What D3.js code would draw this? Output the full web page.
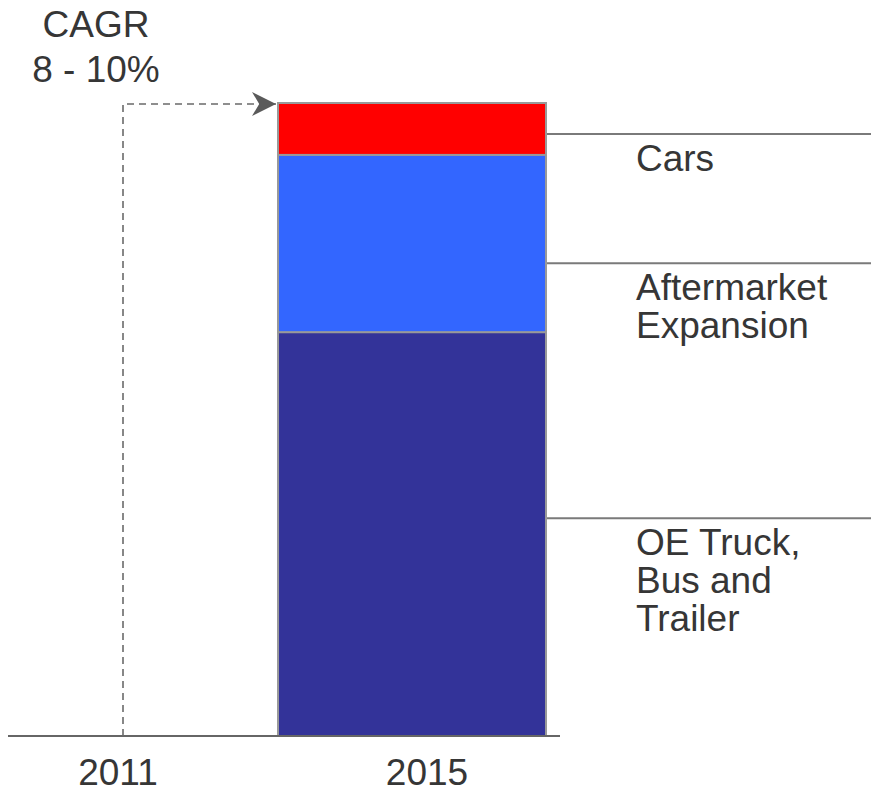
<!DOCTYPE html>
<html>
<head>
<meta charset="utf-8">
<script src="https://cdn.jsdelivr.net/npm/d3@7"></script>
<style>
  body { margin: 0; background: #fff; }
</style>
</head>
<body>
<svg id="chart" width="871" height="794" font-family="'Liberation Sans', Arimo, Arial, Helvetica, sans-serif"></svg>
<script>
const years = ["2011", "2015"];
const segments = ["OE Truck, Bus and Trailer", "Aftermarket Expansion", "Cars"];
const segmentLines = [["OE Truck,", "Bus and", "Trailer"], ["Aftermarket", "Expansion"], ["Cars"]];
const values2015 = [63.8, 28.0, 8.2];
const leaderAt = [34.4, 74.7, 95.1];
const colors = ["#333399", "#3366ff", "#ff0000"];
const cagrText = ["CAGR", "8 - 10%"];

const svg = d3.select("#chart");

const x = d3.scalePoint().domain(years).range([123, 412]);
const xLabel = d3.scalePoint().domain(years).range([118, 427]);
const y = d3.scaleLinear().domain([0, 100]).range([736, 103]);
const barWidth = 268;
const textColor = "#363636";

// stacked values
let acc = 0;
const stacked = values2015.map((v, i) => {
  const d = { name: segments[i], y0: acc, y1: acc + v, color: colors[i] };
  acc += v;
  return d;
});

const barX = x("2015") - barWidth / 2;

svg.append("defs")
  .append("marker")
  .attr("id", "arrow")
  .attr("viewBox", "0 0 10 10")
  .attr("refX", 10)
  .attr("refY", 5)
  .attr("markerWidth", 27)
  .attr("markerHeight", 24)
  .attr("markerUnits", "userSpaceOnUse")
  .attr("orient", "auto")
  .append("path")
  .attr("d", "M0,0 L10,5 L0,10 L3,5 Z")
  .attr("fill", "#5a5a5a");

// leader lines
svg.selectAll(".leader")
  .data(leaderAt)
  .join("line")
  .attr("class", "leader")
  .attr("x1", barX + barWidth)
  .attr("x2", 871)
  .attr("y1", (d) => y(d))
  .attr("y2", (d) => y(d))
  .attr("stroke", "#7a7a7a")
  .attr("stroke-width", 2);

// bar segments
svg.selectAll(".seg")
  .data(stacked)
  .join("rect")
  .attr("class", "seg")
  .attr("x", barX)
  .attr("y", (d) => y(d.y1))
  .attr("width", barWidth)
  .attr("height", (d) => y(d.y0) - y(d.y1))
  .attr("fill", (d) => d.color)
  .attr("stroke", "#999")
  .attr("stroke-width", 2);

// baseline
svg.append("line")
  .attr("x1", 8)
  .attr("x2", 560)
  .attr("y1", y(0))
  .attr("y2", y(0))
  .attr("stroke", "#666")
  .attr("stroke-width", 2);

// CAGR dashed arrow
svg.append("path")
  .attr("d", `M${x("2011")},${y(0)} V${y(100) + 1} H${barX - 2}`)
  .attr("fill", "none")
  .attr("stroke", "#6a6a6a")
  .attr("stroke-width", 1.6)
  .attr("stroke-dasharray", "7,5")
  .attr("marker-end", "url(#arrow)");

// segment labels
segmentLines.forEach((lines, i) => {
  const t = svg.append("text")
    .attr("x", 636)
    .attr("y", y(leaderAt[i]) + 37)
    .attr("font-size", "37px")
    .attr("fill", textColor);
  lines.forEach((line, j) => {
    t.append("tspan")
      .attr("x", 636)
      .attr("dy", j === 0 ? 0 : 38)
      .text(line);
  });
});

// CAGR label
svg.selectAll(".cagr")
  .data(cagrText)
  .join("text")
  .attr("class", "cagr")
  .attr("x", 96)
  .attr("y", (d, i) => 37 + i * 45)
  .attr("text-anchor", "middle")
  .attr("font-size", "37px")
  .attr("fill", textColor)
  .text((d) => d);

// year labels
svg.selectAll(".year")
  .data(years)
  .join("text")
  .attr("class", "year")
  .attr("x", (d) => xLabel(d))
  .attr("y", 785)
  .attr("text-anchor", "middle")
  .attr("font-size", "37px")
  .attr("fill", textColor)
  .text((d) => d);
</script>
</body>
</html>
